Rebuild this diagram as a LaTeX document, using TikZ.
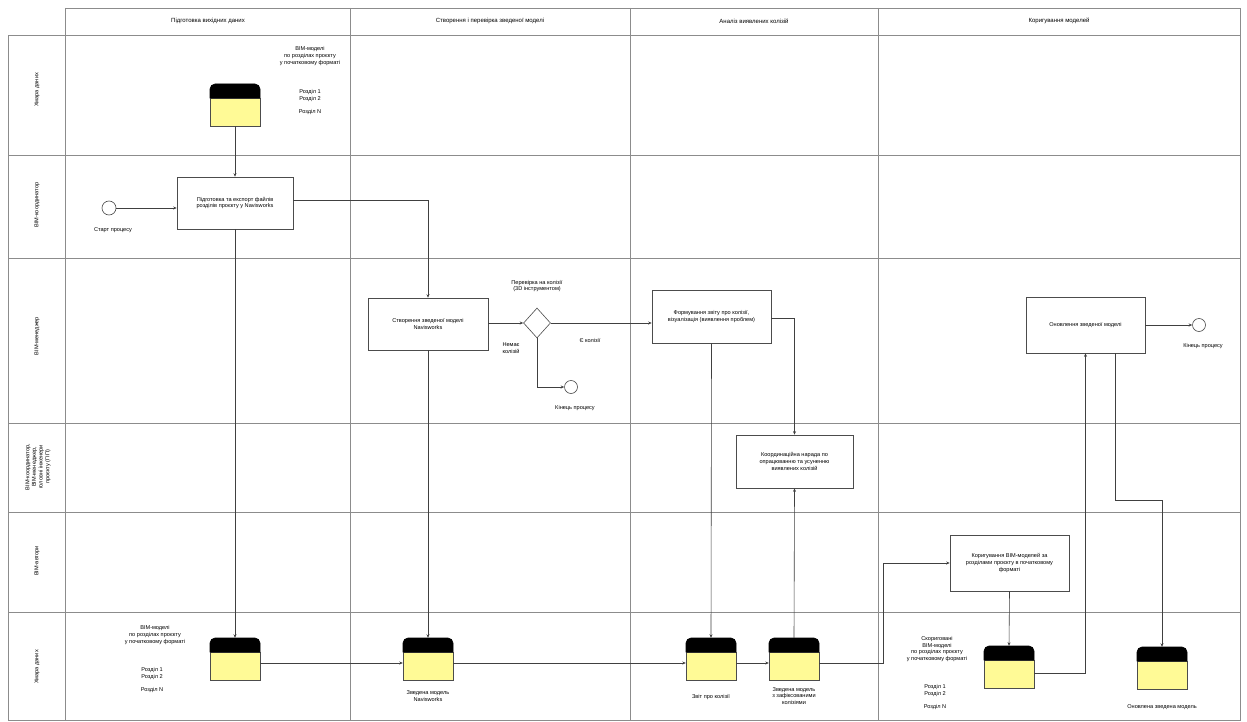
\documentclass[tikz,border=0pt]{standalone}
\usepackage{fontspec}
\setmainfont{Liberation Sans}
\usetikzlibrary{shapes.geometric,arrows.meta}
\definecolor{dofill}{RGB}{255,250,150}
\newcommand\fs{\fontsize{5.6}{6.7}\selectfont}
\tikzset{
 lane/.style={draw=black!45, line width=0.9pt},
 task/.style={draw=black!70, line width=0.6pt, align=center, font=\fs, inner sep=2pt},
 flow/.style={draw=black!75, line width=0.6pt, -{Stealth[length=3.5pt,width=3pt]}},
 plain/.style={draw=black!75, line width=0.6pt},
 lbl/.style={font=\fs, align=center, inner sep=1pt},
 evt/.style={circle, draw=black!70, line width=0.6pt, fill=white, minimum size=13pt, inner sep=0pt},
 gw/.style={diamond, draw=black!70, line width=0.6pt, fill=white, minimum width=27pt, minimum height=30pt, inner sep=0pt},
 hdr/.style={font=\fontsize{6}{7}\selectfont, inner sep=1pt},
 lanelbl/.style={font=\fs, rotate=90, align=center, inner sep=1pt},
}
% data object: name, center x, center y (y downward)
\newcommand\dobj[3]{%
 \filldraw[fill=dofill, draw=black!70, line width=0.6pt] (#2-25,#3-7) rectangle (#2+25,#3+21);
 \filldraw[fill=black, draw=black, line width=0.6pt, rounded corners=5pt] (#2-25,#3-7) -- (#2-25,#3-21) -- (#2+25,#3-21) [sharp corners] -- (#2+25,#3-7) -- cycle;
 \node[minimum width=50pt, minimum height=42pt, inner sep=0pt] (#1) at (#2,#3) {};
}
\begin{document}
\begin{tikzpicture}[x=1pt,y=-1pt]
\useasboundingbox (0,0) rectangle (1247,722);
\fill[white] (0,0) rectangle (1247,722);
% pool frame
\draw[lane] (65,8) -- (1240,8) -- (1240,720) -- (8,720) -- (8,35) -- (1240,35);
\draw[lane] (65,8) -- (65,720);
\foreach \yy in {155,258,423,512,612} \draw[lane] (8,\yy) -- (1240,\yy);
\foreach \xx in {350,630,878} \draw[lane] (\xx,8) -- (\xx,720);
% headers
\node[hdr] (h1) at (208,21) {Підготовка вихідних даних};
\node[hdr] (h2) at (490,21) {Створення і перевірка зведеної моделі};
\node[hdr] (h3) at (754,21) {Аналіз виявлених колізій};
\node[hdr] (h4) at (1059,21) {Коригування моделей};
% lane labels
\node[lanelbl] (l1) at (37,90) {Хмара даних};
\node[lanelbl] (l2) at (37,205) {BIM-координатор};
\node[lanelbl] (l3) at (37,336) {BIM-менеджер};
\node[lanelbl] (l4) at (38,467) {BIM-координатор,\\BIM-менеджер,\\головні інженери\\проєкту (ГІП)};
\node[lanelbl] (l5) at (37,561) {BIM-автори};
\node[lanelbl] (l6) at (37,667) {Хмара даних};

% top data object
\dobj{d0}{235}{105}
\node[lbl] (d0t) at (310,56) {BIM-моделі\\по розділах проєкту\\у початковому форматі};
\node[lbl] (d0r) at (310,102) {Розділ 1\\Розділ 2\\[6pt]Розділ N};

% start
\node[evt, minimum size=14pt] (s) at (109,208) {};
\node[lbl] (slbl) at (113,230) {Старт процесу};
% tasks
\node[task, minimum width=116pt, minimum height=52pt] (t1) at (235,203) {Підготовка та експорт файлів\\розділів проєкту у Navisworks};
\node[task, minimum width=120pt, minimum height=52pt] (t2) at (428,324) {Створення зведеної моделі\\Navisworks};
\node[gw] (gw) at (537,323) {};
\node[lbl] (gwl) at (537,286) {Перевірка на колізії\\(3D інструментом)};
\node[lbl] (nol) at (511,348) {Немає\\колізій};
\node[lbl] (yesl) at (590,340) {Є колізії};
\node[evt] (e1) at (571,387) {};
\node[lbl] (e1l) at (575,408) {Кінець процесу};
\node[task, minimum width=119pt, minimum height=53pt] (t3) at (711.5,316.5) {Формування звіту про колізії,\\візуалізація (виявлення проблем)};
\node[task, minimum width=117pt, minimum height=53pt] (t4) at (794.5,461.5) {Координаційна нарада по\\опрацюванню та усуненню\\виявлених колізій};
\node[task, minimum width=119pt, minimum height=56pt] (t5) at (1085.5,325) {Оновлення зведеної моделі};
\node[evt] (e2) at (1199,325) {};
\node[lbl] (e2l) at (1203,346) {Кінець процесу};
\node[task, minimum width=119pt, minimum height=56pt] (t6) at (1009.5,563) {Коригування BIM-моделей за\\розділами проєкту в початковому\\форматі};

% bottom data objects
\dobj{d1}{235}{659}
\dobj{d2}{428}{659}
\dobj{d3}{711}{659}
\dobj{d4}{794}{659}
\dobj{d5}{1009}{667}
\dobj{d6}{1162}{668}
\node[lbl] (d1t) at (155,635) {BIM-моделі\\по розділах проєкту\\у початковому форматі};
\node[lbl] (d1r) at (152,680) {Розділ 1\\Розділ 2\\[6pt]Розділ N};
\node[lbl] (d2t) at (428,696) {Зведена модель\\Navisworks};
\node[lbl] (d3t) at (711,697) {Звіт про колізії};
\node[lbl] (d4t) at (794,696) {Зведена модель\\з зафіксованими\\колізіями};
\node[lbl] (d5t) at (937,649) {Скориговані\\BIM-моделі\\по розділах проєкту\\у початковому форматі};
\node[lbl] (d5r) at (935,697) {Розділ 1\\Розділ 2\\[6pt]Розділ N};
\node[lbl] (d6t) at (1162,707) {Оновлена зведена модель};

% connectors
\draw[flow] (d0.south) -- (t1.north);
\draw[flow] (s.east) -- (s -| t1.west);
\draw[flow] ([yshift=3pt]t1.east) -| (t2.north);
\draw[flow] (t1.south) -- (d1.north);
\draw[flow] (t2.east |- gw.west) -- (gw.west);
\draw[flow] (gw.east) -- (gw.east -| t3.west);
\draw[flow] (gw.south) |- (e1.west);
\draw[flow] (t2.south) -- (d2.north);
\draw[flow] ([yshift=-2pt]t3.east) -| (t4.north);
\draw[flow] (t3.south) -- (d3.north);
\draw[flow] (d4.north) -- (t4.south);
\draw[flow] ([yshift=-4pt]d1.east) -- ([yshift=-4pt]d2.west);
\draw[flow] ([yshift=-4pt]d2.east) -- ([yshift=-4pt]d3.west);
\draw[flow] ([yshift=-4pt]d3.east) -- ([yshift=-4pt]d4.west);
\coordinate (c1) at (883,563);
\draw[flow] ([yshift=-4pt]d4.east) -| (c1) -- (t6.west);
\draw[flow] (t6.south) -- (d5.north);
\draw[flow] ([yshift=-6pt]d5.east) -| (t5.south);
\draw[flow] (t5.east) -- (e2.west);
\coordinate (c2) at (1115,500);
\draw[flow] (t5.south -| c2) -- (c2) -| (d6.north);
\end{tikzpicture}
\end{document}
